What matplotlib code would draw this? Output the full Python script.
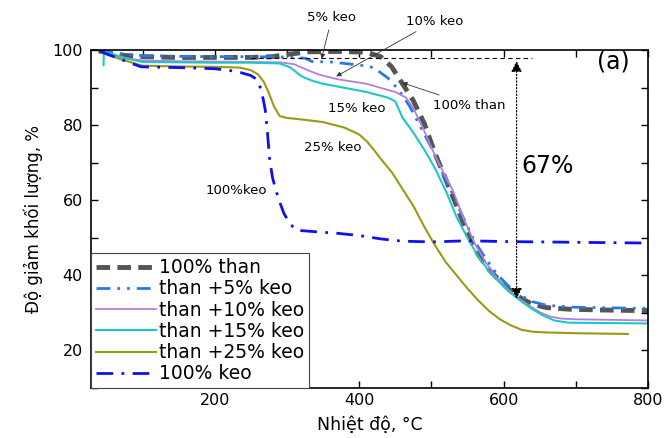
import numpy as np
import matplotlib
matplotlib.use('Agg')
import matplotlib.pyplot as plt

# TGA curves (temperature in C, remaining mass in %)
than_T = [40, 50, 70, 100, 150, 200, 250, 280, 300, 330, 370, 410, 430, 445, 455, 465, 475, 490, 505, 520,
          535, 550, 565, 580, 595, 610, 625, 640, 660, 690, 730, 800]
than_y = [99.8, 99.3, 98.6, 98.2, 98.0, 98.0, 98.0, 98.2, 98.8, 99.5, 99.6, 99.4, 98.2, 95.5, 92.5, 89.5,
          86.5, 80.5, 72.5, 65.5, 58.5, 51.0, 45.5, 41.5, 38.5, 35.8, 33.8, 32.3, 31.4, 31.0, 30.8, 30.6]

k5_T = [40, 50, 70, 100, 150, 200, 250, 300, 325, 335, 360, 400, 420, 440, 455, 470, 485, 500, 515, 530,
        545, 560, 575, 590, 605, 620, 640, 660, 700, 800]
k5_y = [99.8, 99.5, 99.0, 98.5, 98.3, 98.2, 98.2, 98.1, 97.8, 96.9, 96.8, 96.0, 95.3, 92.5, 89.3, 85.0,
        79.5, 74.0, 67.5, 61.5, 55.0, 49.0, 44.5, 40.5, 37.5, 35.0, 33.0, 32.0, 31.5, 31.2]

k10_T = [40, 50, 70, 100, 150, 200, 250, 290, 310, 330, 345, 370, 410, 450, 465, 475, 490, 500, 515, 530,
         545, 560, 575, 590, 605, 620, 635, 650, 665, 680, 700, 800]
k10_y = [99.6, 99.0, 98.0, 97.2, 97.0, 96.9, 96.8, 96.7, 96.2, 94.5, 93.4, 92.2, 91.0, 88.8, 87.3, 84.5,
         78.5, 74.0, 68.0, 62.5, 55.0, 48.5, 43.5, 39.5, 36.5, 34.0, 32.0, 30.2, 29.0, 28.5, 28.3, 28.0]

k15_T = [46, 46.5, 60, 80, 100, 150, 200, 250, 290, 305, 320, 335, 350, 380, 410, 440, 450, 460, 475, 490,
         505, 520, 535, 550, 565, 580, 595, 610, 625, 640, 655, 670, 690, 800]
k15_y = [96.0, 99.5, 98.8, 97.6, 96.8, 96.7, 96.6, 96.6, 96.4, 95.3, 93.0, 91.8, 91.0, 89.9, 88.8, 87.3,
         86.3, 82.0, 78.0, 73.5, 68.5, 62.5, 55.5, 50.0, 45.0, 41.0, 38.0, 35.3, 33.0, 31.0, 29.3, 28.0,
         27.4, 27.2]

k25_T = [40, 50, 70, 100, 150, 200, 235, 250, 260, 268, 275, 282, 290, 300, 320, 350, 380, 400, 410, 420,
         430, 445, 460, 475, 490, 505, 520, 535, 550, 565, 580, 595, 610, 625, 640, 660, 700, 772]
k25_y = [99.3, 98.8, 97.5, 95.8, 95.6, 95.5, 95.3, 94.6, 93.5, 91.5, 88.5, 85.0, 82.4, 81.9, 81.5, 80.8,
         79.3, 77.5, 75.8, 73.5, 71.0, 67.5, 63.0, 58.5, 53.0, 48.0, 43.5, 40.0, 36.5, 33.3, 30.5, 28.3,
         26.7, 25.5, 25.0, 24.8, 24.6, 24.4]

keo_T = [40, 50, 70, 98, 150, 200, 230, 250, 258, 263, 267, 270, 273, 276, 280, 285, 290, 296, 305, 314,
         340, 370, 400, 430, 460, 500, 550, 600, 700, 800]
keo_y = [99.8, 99.0, 97.5, 95.5, 95.3, 95.0, 94.3, 93.2, 92.2, 90.0, 87.0, 84.0, 78.0, 71.0, 66.0, 62.5,
         59.5, 56.4, 53.5, 52.0, 51.6, 51.2, 50.6, 49.7, 49.1, 48.9, 49.2, 49.0, 48.8, 48.6]

labels = ['100% than', 'than +5% keo', 'than +10% keo', 'than +15% keo', 'than +25% keo', '100% keo']


def main():
    fig = plt.figure(figsize=(6.66, 4.38), dpi=100)
    ax = fig.add_axes([0.137, 0.114, 0.836, 0.772])

    ax.plot(than_T, than_y, color='#555555', lw=3.5, dashes=(2.8, 1.5), label=labels[0])
    ax.plot(k5_T, k5_y, color='#2b78e4', lw=2, linestyle=(0, (5, 2.5, 1, 2.5, 1, 2.5)), label=labels[1])
    ax.plot(k10_T, k10_y, color='#b57edc', lw=1.3, label=labels[2])
    ax.plot(k15_T, k15_y, color='#1fc6c8', lw=1.5, label=labels[3])
    ax.plot(k25_T, k25_y, color='#9a9a14', lw=1.5, label=labels[4])
    ax.plot(keo_T, keo_y, color='#1010f0', lw=2, linestyle=(0, (6, 3, 1, 3)), label=labels[5])

    ax.set_xlim(29, 800)
    ax.set_ylim(10, 100)
    ax.set_xticks([200, 400, 600, 800])
    ax.set_xticks(np.arange(100, 801, 100), minor=True)
    ax.set_yticks([20, 40, 60, 80, 100])
    ax.set_yticks(np.arange(10, 101, 10), minor=True)
    ax.tick_params(which='both', direction='in', length=5, width=1, top=True, right=True, labelsize=11.5)
    ax.tick_params(axis='y', pad=6)
    for s in ax.spines.values():
        s.set_linewidth(1.2)

    ax.set_xlabel('Nhiệt độ, °C', fontsize=12.5, labelpad=6)
    ax.set_ylabel('Độ giảm khối lượng, %', fontsize=12, labelpad=7)

    # reference line and the 67% span
    ax.plot([250, 640], [97.8, 97.8], color='black', lw=0.8, dashes=(4, 3))
    ax.annotate('', xy=(618, 97.8), xytext=(618, 33.0),
                arrowprops=dict(arrowstyle='<|-|>', color='black', lw=0.9, ls=':', mutation_scale=16))
    ax.text(624, 69, '67%', fontsize=17, va='center', ha='left')
    ax.text(775, 97, '(a)', fontsize=17, va='center', ha='right')

    arrow = dict(arrowstyle='-|>', color='#333333', lw=0.6, mutation_scale=7)
    ax.annotate('5% keo', xy=(347, 96.9), xytext=(362, 108.5), fontsize=9.5, ha='center', va='center',
                arrowprops=arrow, annotation_clip=False)
    ax.annotate('10% keo', xy=(365, 92.6), xytext=(505, 107.7), fontsize=9.5, ha='center', va='center',
                arrowprops=arrow, annotation_clip=False)
    ax.annotate('100% than', xy=(456, 91.5), xytext=(553, 85.3), fontsize=9.5, ha='center', va='center',
                arrowprops=arrow)
    ax.text(396, 84.3, '15% keo', fontsize=9.5, ha='center', va='center')
    ax.text(364, 74.1, '25% keo', fontsize=9.5, ha='center', va='center')
    ax.text(230, 62.7, '100%keo', fontsize=9.5, ha='center', va='center')

    leg = ax.legend(loc='lower left', bbox_to_anchor=(0, 0), borderaxespad=0, fontsize=13.5,
                    handlelength=3.2, handletextpad=0.15, labelspacing=0.12, borderpad=0.25,
                    fancybox=False, framealpha=1, edgecolor='#444444')
    leg.get_frame().set_linewidth(0.8)

    fig.savefig('out.png', dpi=100)


if __name__ == '__main__':
    main()
